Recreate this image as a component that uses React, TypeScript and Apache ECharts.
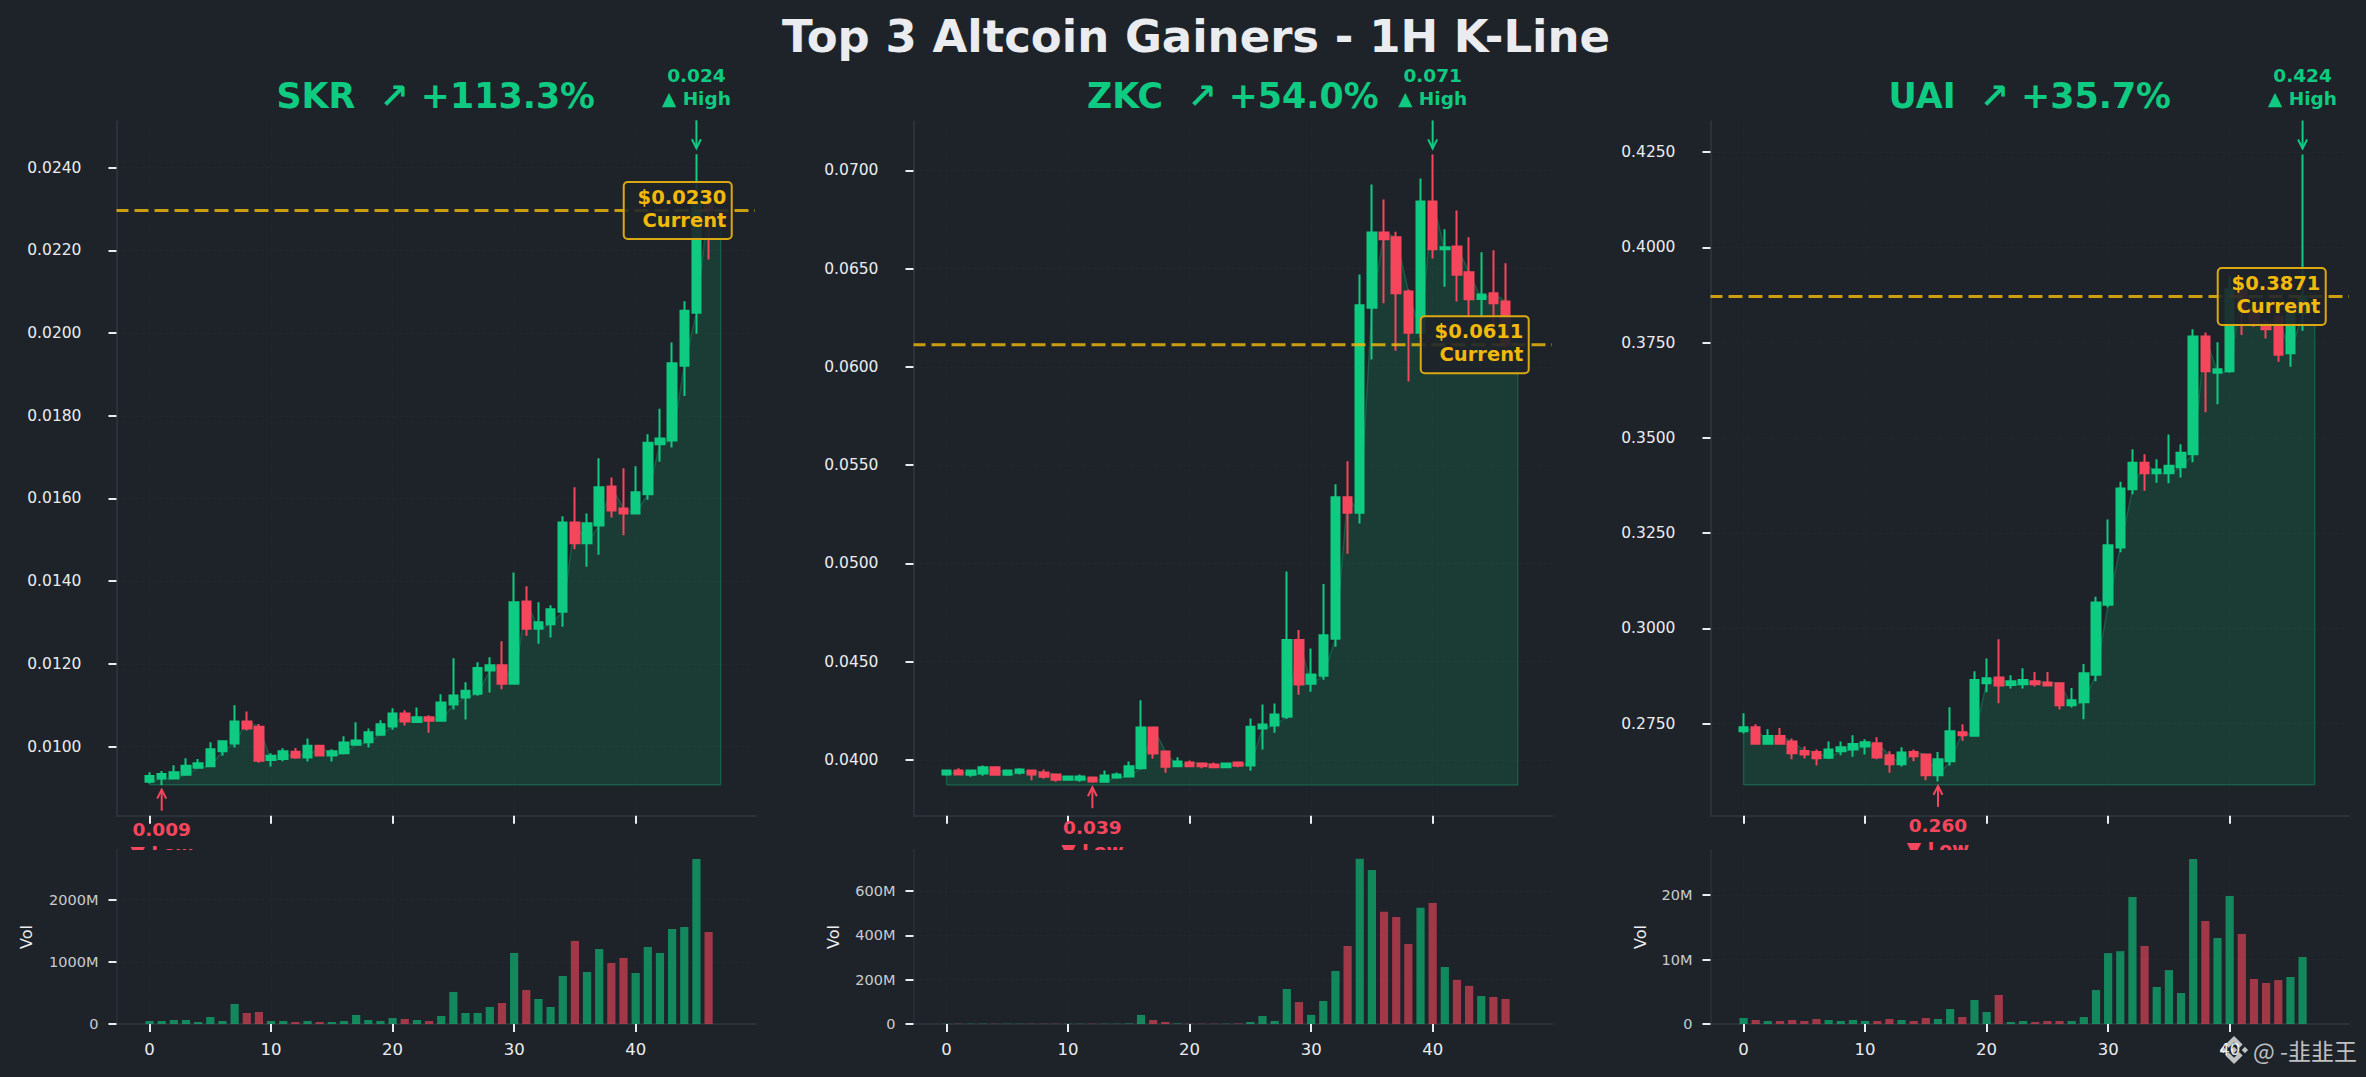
import React, { useEffect, useRef } from "react";
import * as echarts from "echarts";

const BG = "#1e2329";
const GREEN = "#0ecb81";
const RED = "#f6465d";
const GOLD = "#f0b90b";
const TEXT = "#eaecef";
const SPINE = "#2b3139";
const FONT = "DejaVu Sans";

const chartTitle = "Top 3 Altcoin Gainers - 1H K-Line";
const xTicks = [0, 10, 20, 30, 40];

// ---- SKR ----
const skrOpen = [0.00915,0.00923,0.00923,0.00932,0.00949,0.00953,0.00989,0.01008,0.01061,0.01048,0.00968,0.0097,0.00988,0.00974,0.01002,0.00979,0.00984,0.01005,0.01011,0.01029,0.01049,0.0108,0.0106,0.01071,0.01063,0.01102,0.01119,0.01128,0.01184,0.01197,0.01152,0.01351,0.01285,0.01296,0.01326,0.01542,0.01492,0.01535,0.01629,0.01576,0.01564,0.0161,0.01731,0.0174,0.01921,0.02049,0.02312];
const skrClose = [0.00929,0.00934,0.00938,0.00954,0.0096,0.00994,0.01013,0.01061,0.01044,0.00966,0.00978,0.00989,0.00974,0.01002,0.00979,0.00989,0.0101,0.01015,0.01035,0.01054,0.0108,0.01061,0.01071,0.01063,0.01107,0.01124,0.01135,0.0119,0.01197,0.01152,0.01349,0.01285,0.01301,0.01332,0.01542,0.01492,0.0154,0.01627,0.01571,0.01564,0.01615,0.01735,0.01745,0.01927,0.02054,0.02312,0.02296];
const skrLow = [0.00911,0.00907,0.00923,0.0093,0.00947,0.00952,0.00978,0.00998,0.01039,0.00961,0.00952,0.00965,0.00971,0.00964,0.00979,0.00964,0.00981,0.01005,0.00998,0.01027,0.01041,0.01051,0.01059,0.01034,0.01061,0.0109,0.01066,0.01123,0.01131,0.01139,0.01152,0.01268,0.01249,0.01264,0.0129,0.01477,0.01435,0.01464,0.01554,0.01511,0.01564,0.01597,0.01689,0.01723,0.01848,0.01998,0.02178];
const skrHigh = [0.00938,0.00941,0.00955,0.00972,0.0097,0.01011,0.01015,0.011,0.01085,0.01055,0.00984,0.00996,0.00997,0.0102,0.01002,0.00994,0.01025,0.01059,0.01044,0.01064,0.01093,0.01088,0.01095,0.01076,0.01127,0.01214,0.01156,0.01204,0.01216,0.01255,0.01421,0.01388,0.01349,0.01342,0.01557,0.01627,0.01564,0.01697,0.01651,0.01673,0.01678,0.01755,0.01817,0.01977,0.02077,0.02432,0.02325];
const skrVol = [48,48,64,64,32,113,48,322,177,193,48,48,32,48,32,32,48,145,64,48,96,80,64,48,129,515,177,177,273,338,1142,547,402,273,772,1335,836,1206,981,1061,820,1238,1142,1528,1560,2653,1479];
const skrTicks = [0.01,0.012,0.014,0.016,0.018,0.02,0.022,0.024];
const skrVolTicks = [0,1000,2000];

// ---- ZKC ----
const zkcOpen = [0.03926,0.03946,0.03924,0.03931,0.03962,0.03924,0.03934,0.03946,0.03936,0.03926,0.03899,0.03899,0.03911,0.03889,0.03911,0.03916,0.03957,0.04165,0.04043,0.03967,0.03987,0.03982,0.03977,0.03962,0.03987,0.03972,0.0416,0.04175,0.0422,0.0461,0.04387,0.04428,0.04617,0.05336,0.05258,0.06301,0.06684,0.06659,0.06384,0.06174,0.06842,0.06598,0.06613,0.06481,0.06345,0.06374,0.06333];
const zkcClose = [0.03946,0.03926,0.03946,0.03962,0.03924,0.03946,0.03951,0.03926,0.03914,0.03899,0.03916,0.03916,0.0389,0.03921,0.03926,0.03967,0.04165,0.04033,0.03965,0.03992,0.03967,0.03967,0.03963,0.03982,0.0397,0.04169,0.0418,0.04231,0.0461,0.04384,0.04435,0.04634,0.05336,0.05258,0.06313,0.06684,0.06649,0.06374,0.06174,0.06842,0.06598,0.06608,0.06469,0.06344,0.06368,0.06323,0.06113];
const zkcLow = [0.03919,0.03926,0.03914,0.03919,0.03919,0.03919,0.03926,0.03897,0.03904,0.03889,0.03894,0.03889,0.03884,0.03884,0.03904,0.03916,0.03951,0.04006,0.03934,0.03967,0.03962,0.03957,0.03962,0.03957,0.03962,0.03945,0.04053,0.04138,0.04208,0.04332,0.04347,0.04408,0.04576,0.05049,0.05203,0.06038,0.06323,0.06082,0.05925,0.0615,0.06551,0.06408,0.06332,0.0625,0.0625,0.062,0.061];
const zkcHigh = [0.03946,0.03957,0.03946,0.03972,0.03962,0.03946,0.03957,0.03946,0.03951,0.03926,0.03921,0.03926,0.03911,0.03946,0.03936,0.03992,0.04303,0.04165,0.04043,0.04013,0.03997,0.03982,0.03987,0.03987,0.03992,0.04211,0.04282,0.04287,0.04959,0.04661,0.04567,0.04895,0.05402,0.05519,0.0647,0.06928,0.06852,0.06688,0.06394,0.06959,0.07081,0.067,0.06796,0.06659,0.06583,0.06593,0.06527];
const zkcVol = [1,1,1,1,1,1,1,1,1,1,1,1,1,1,1,2,41,18,9,2,1,1,1,1,2,9,36,14,158,99,41,104,239,352,745,695,506,483,361,524,546,257,199,172,126,122,113];
const zkcTicks = [0.04,0.045,0.05,0.055,0.06,0.065,0.07];
const zkcVolTicks = [0,200,400,600];

// ---- UAI ----
const uaiOpen = [0.273,0.274,0.2697,0.2717,0.2703,0.2678,0.2675,0.266,0.2677,0.2682,0.269,0.2698,0.2667,0.2643,0.2675,0.2669,0.2614,0.2651,0.2727,0.2718,0.2856,0.2871,0.2851,0.2853,0.2861,0.2858,0.2856,0.2798,0.2806,0.2878,0.3062,0.3212,0.3365,0.3435,0.3407,0.3407,0.3423,0.3457,0.3766,0.3671,0.3675,0.389,0.384,0.38,0.3818,0.3722,0.3827];
const uaiClose = [0.274,0.2697,0.2717,0.2697,0.2672,0.2669,0.2659,0.2682,0.2688,0.2696,0.2701,0.2661,0.2643,0.2674,0.2664,0.2614,0.2656,0.273,0.2719,0.2864,0.2869,0.285,0.2861,0.2864,0.2853,0.285,0.2798,0.2811,0.2882,0.3068,0.3218,0.3367,0.3435,0.3407,0.3417,0.3427,0.3461,0.3766,0.3675,0.368,0.389,0.384,0.38,0.3785,0.3718,0.3827,0.3871];
const uaiLow = [0.2724,0.2695,0.2695,0.2695,0.2656,0.2658,0.264,0.2657,0.2667,0.2663,0.2669,0.2656,0.2621,0.2637,0.2651,0.2601,0.2598,0.264,0.2705,0.2717,0.2832,0.2803,0.2842,0.2842,0.2847,0.2848,0.2787,0.2792,0.2761,0.2861,0.3055,0.32,0.3352,0.3361,0.3382,0.3381,0.3396,0.3436,0.3567,0.3588,0.3671,0.377,0.3792,0.3761,0.37,0.3687,0.3781];
const uaiHigh = [0.2777,0.2748,0.2735,0.2738,0.2711,0.269,0.2682,0.2703,0.2703,0.2719,0.2709,0.2714,0.2677,0.2688,0.2682,0.2669,0.2675,0.2793,0.2748,0.2887,0.2921,0.2971,0.2877,0.2895,0.2885,0.2885,0.2856,0.2843,0.2906,0.3083,0.3286,0.3385,0.347,0.3457,0.3444,0.3509,0.3483,0.3785,0.3777,0.3751,0.3925,0.3905,0.385,0.381,0.383,0.3845,0.4244];
const uaiVol = [0.93,0.62,0.47,0.47,0.62,0.47,0.78,0.62,0.47,0.62,0.47,0.47,0.78,0.62,0.47,0.93,0.78,2.33,1.08,3.72,1.86,4.5,0.31,0.47,0.31,0.47,0.47,0.47,1.08,5.27,11,11.3,19.7,12.1,5.74,8.37,4.81,25.6,16,13.33,19.85,13.95,6.98,6.36,6.82,7.29,10.39];
const uaiTicks = [0.275,0.3,0.325,0.35,0.375,0.4,0.425];
const uaiVolTicks = [0,10,20];

const panels = [
  { title: "SKR  ↗ +113.3%", open: skrOpen, close: skrClose, low: skrLow, high: skrHigh, vol: skrVol, ticks: skrTicks, volTicks: skrVolTicks,
    yMin: 0.008332, yMax: 0.025125, floor: 0.00908, volMax: 2797, current: 0.02296, currentLabel: "$0.0230", highLabel: "0.024", lowLabel: "0.009", highX: 45, lowX: 1,
    left: 116.5, nameGap: 82 },
  { title: "ZKC  ↗ +54.0%", open: zkcOpen, close: zkcClose, low: zkcLow, high: zkcHigh, vol: zkcVol, ticks: zkcTicks, volTicks: zkcVolTicks,
    yMin: 0.03716, yMax: 0.07251, floor: 0.03872, volMax: 785, current: 0.06113, currentLabel: "$0.0611", highLabel: "0.071", lowLabel: "0.039", highX: 40, lowX: 12,
    left: 913.5, nameGap: 72 },
  { title: "UAI  ↗ +35.7%", open: uaiOpen, close: uaiClose, low: uaiLow, high: uaiHigh, vol: uaiVol, ticks: uaiTicks, volTicks: uaiVolTicks,
    yMin: 0.2508, yMax: 0.4332, floor: 0.2589, volMax: 27, current: 0.3871, currentLabel: "$0.3871", highLabel: "0.424", lowLabel: "0.260", highX: 46, lowX: 16,
    left: 1710.5, nameGap: 62 },
];

const LOGO = "M16.624 13.9202l2.7175 2.7154-7.353 7.353-7.353-7.352 2.7175-2.7164 4.6355 4.6595 4.6356-4.6595zm4.6366-4.6366L24 12l-2.7154 2.7164L18.5682 12l2.6924-2.7164zm-9.272.001l2.7163 2.6914-2.7164 2.7174v-.001L9.2721 12l2.7164-2.7154zm-9.2722-.001L5.4088 12l-2.6914 2.6924L0 12l2.7164-2.7164zM11.9885.0115l7.353 7.329-2.7174 2.7154-4.6356-4.6356-4.6355 4.6595-2.7174-2.7154 7.353-7.353z";

const X_MIN = -2.72;
const X_MAX = 49.82;
const GRID_W = 638.5;
const PRICE_TOP = 121;
const PRICE_BOTTOM = 815.7;
const VOL_TOP = 850;
const VOL_BOTTOM = 1024;

function buildOption() {
  const grid: any[] = [];
  const xAxis: any[] = [];
  const yAxis: any[] = [];
  const series: any[] = [];
  const title: any[] = [
    { text: chartTitle, left: 1196, top: 36, padding: 0, textAlign: "center", textVerticalAlign: "middle",
      textStyle: { color: TEXT, fontFamily: FONT, fontWeight: "bold", fontSize: 45 } },
  ];

  const faint = { show: true, lineStyle: { color: "#21262c", width: 1, type: "dashed" } };

  panels.forEach((p, i) => {
    const gp = i * 2;
    const gv = i * 2 + 1;
    grid.push({ left: p.left, width: GRID_W, top: PRICE_TOP, height: PRICE_BOTTOM - PRICE_TOP });
    grid.push({ left: p.left, width: GRID_W, top: VOL_TOP, height: VOL_BOTTOM - VOL_TOP });
    title.push({ text: p.title, left: p.left + GRID_W / 2, top: 96, padding: 0, textAlign: "center", textVerticalAlign: "middle",
      textStyle: { color: GREEN, fontFamily: FONT, fontWeight: "bold", fontSize: 34.8 } });

    const xCommon = {
      type: "value", min: X_MIN, max: X_MAX,
      axisLine: { show: true, onZero: false, lineStyle: { color: SPINE, width: 2 } },
      axisTick: { show: true, length: 8, lineStyle: { color: TEXT, width: 2 }, customValues: xTicks },
      splitLine: faint,
    };
    xAxis.push({ ...xCommon, gridIndex: gp, axisLabel: { show: false, customValues: xTicks } });
    xAxis.push({ ...xCommon, gridIndex: gv,
      axisLabel: { show: true, customValues: xTicks, color: TEXT, fontFamily: FONT, fontSize: 16.5, margin: 17 } });

    yAxis.push({ type: "value", gridIndex: gp, min: p.yMin, max: p.yMax,
      axisLine: { show: true, onZero: false, lineStyle: { color: SPINE, width: 2 } },
      axisTick: { show: true, length: 8, lineStyle: { color: TEXT, width: 2 }, customValues: p.ticks },
      axisLabel: { show: true, customValues: p.ticks, color: TEXT, fontFamily: FONT, fontSize: 15.5, margin: 35,
        formatter: (v: number) => v.toFixed(4) },
      splitLine: faint });
    yAxis.push({ type: "value", gridIndex: gv, min: 0, max: p.volMax,
      name: "Vol", nameLocation: "middle", nameGap: p.nameGap, nameRotate: 90,
      nameTextStyle: { color: TEXT, fontFamily: FONT, fontSize: 16 },
      axisLine: { show: true, onZero: false, lineStyle: { color: SPINE, width: 1.5 } },
      axisTick: { show: true, length: 8, lineStyle: { color: TEXT, width: 2 }, customValues: p.volTicks },
      axisLabel: { show: true, customValues: p.volTicks, color: "#c8ccd1", fontFamily: FONT, fontSize: 14.5, margin: 18,
        formatter: (v: number) => (v === 0 ? "0" : `${v}M`) },
      splitLine: faint });

    const last = p.close[p.close.length - 1];
    const areaPoints: number[][] = [[0, p.floor]];
    p.open.forEach((o, k) => areaPoints.push([k, o]));
    areaPoints.push([p.open.length, last], [p.open.length, p.floor], [0, p.floor]);

    series.push({ type: "line", xAxisIndex: gp, yAxisIndex: gp, z: 1, silent: true, symbol: "none", data: areaPoints,
      lineStyle: { color: GREEN, opacity: 0.28, width: 1.5 },
      areaStyle: { color: GREEN, opacity: 0.15, origin: p.floor } });

    series.push({ type: "candlestick", xAxisIndex: gp, yAxisIndex: gp, z: 3, silent: true, barWidth: 9,
      itemStyle: { color: GREEN, color0: RED, borderColor: GREEN, borderColor0: RED, borderColorDoji: GREEN, borderWidth: 2 },
      data: p.open.map((o, k) => [k, o, p.close[k], p.low[k], p.high[k]]) });

    series.push({ type: "line", xAxisIndex: gp, yAxisIndex: gp, z: 5, silent: true, symbol: "none",
      data: [[X_MIN, p.current], [X_MAX, p.current]],
      lineStyle: { color: GOLD, opacity: 0.82, width: 3, type: [14, 6], dashOffset: 1.5 } });

    series.push({ type: "bar", xAxisIndex: gv, yAxisIndex: gv, z: 3, silent: true, barWidth: 8.2,
      data: p.vol.map((v, k) => ({
        value: [k, v],
        itemStyle: { color: p.close[k] >= p.open[k] ? GREEN : RED, opacity: 0.6 },
      })) });

    const highVal = Math.max(...p.high);
    const lowVal = Math.min(...p.low);

    // High annotation
    series.push({ type: "custom", xAxisIndex: gp, yAxisIndex: gp, z: 8, silent: true, clip: false,
      data: [[p.highX, highVal]],
      renderItem: (_: any, api: any) => {
        const [px, py] = api.coord([api.value(0), api.value(1)]);
        const tip = py - 6;
        return { type: "group", children: [
          { type: "text", style: { x: px, y: py - 67.5, text: `${p.highLabel}\n▲ High`, fill: GREEN, fontSize: 18.5, fontWeight: "bold", fontFamily: FONT, align: "center", verticalAlign: "middle", lineHeight: 23 } },
          { type: "line", shape: { x1: px, y1: tip - 28, x2: px, y2: tip }, style: { stroke: GREEN, lineWidth: 2 } },
          { type: "polyline", shape: { points: [[px - 4.5, tip - 9], [px, tip], [px + 4.5, tip - 9]] }, style: { stroke: GREEN, lineWidth: 2, fill: "none" } },
        ] };
      } });

    // Low annotation: its second line is hidden by the volume axes below
    series.push({ type: "custom", xAxisIndex: gp, yAxisIndex: gp, z: 8, silent: true, clip: false,
      data: [[p.lowX, lowVal]],
      renderItem: (_: any, api: any) => {
        const [px, py] = api.coord([api.value(0), api.value(1)]);
        const tip = py + 4.5;
        return { type: "group", children: [
          { type: "text", style: { x: px, y: py + 56, text: `${p.lowLabel}\n▼ Low`, fill: RED, fontSize: 18.5, fontWeight: "bold", fontFamily: FONT, align: "center", verticalAlign: "middle", lineHeight: 23 },
            clipPath: { type: "rect", shape: { x: px - 80, y: 0, width: 160, height: VOL_TOP } } },
          { type: "line", shape: { x1: px, y1: tip + 21, x2: px, y2: tip }, style: { stroke: RED, lineWidth: 2 } },
          { type: "polyline", shape: { points: [[px - 4.5, tip + 9], [px, tip], [px + 4.5, tip + 9]] }, style: { stroke: RED, lineWidth: 2, fill: "none" } },
        ] };
      } });

    // Current price box
    series.push({ type: "custom", xAxisIndex: gp, yAxisIndex: gp, z: 9, silent: true, clip: false,
      data: [[p.open.length, p.current]],
      renderItem: (_: any, api: any) => {
        const [px, py] = api.coord([api.value(0), api.value(1)]);
        return { type: "group", children: [
          { type: "rect", shape: { x: px - 97, y: py - 28.5, width: 108, height: 57, r: 4 }, style: { fill: "rgba(30,35,41,0.9)", stroke: "#d9a812", lineWidth: 2 } },
          { type: "text", style: { x: px + 5.7, y: py - 1.5, text: `${p.currentLabel}\nCurrent`, fill: GOLD, fontSize: 19.5, fontWeight: "bold", fontFamily: FONT, align: "right", verticalAlign: "middle", lineHeight: 23.7 } },
        ] };
      } });
  });

  const graphic = [
    { type: "bnLogo", x: 2220, y: 1036, scaleX: 1.17, scaleY: 1.17, style: { fill: "rgba(255,255,255,0.72)" }, z: 20 },
    { type: "text", x: 2253, y: 1050, z: 20, style: { text: "@ -韭韭王", fill: "rgba(255,255,255,0.72)", fontSize: 23, fontFamily: "Noto Sans CJK SC", align: "left", verticalAlign: "middle" } },
  ];

  return { animation: false, backgroundColor: BG, title, grid, xAxis, yAxis, series, graphic };
}

export default function App() {
  const ref = useRef<HTMLDivElement | null>(null);
  useEffect(() => {
    document.body.style.margin = "0";
    document.body.style.background = BG;
    echarts.graphic.registerShape("bnLogo", echarts.graphic.extendPath(LOGO, {}));
    const chart = echarts.init(ref.current!, undefined, { renderer: "svg" });
    chart.setOption(buildOption() as any);
    return () => chart.dispose();
  }, []);
  return <div ref={ref} style={{ position: "fixed", left: 0, top: 0, width: 2366, height: 1077 }} />;
}
